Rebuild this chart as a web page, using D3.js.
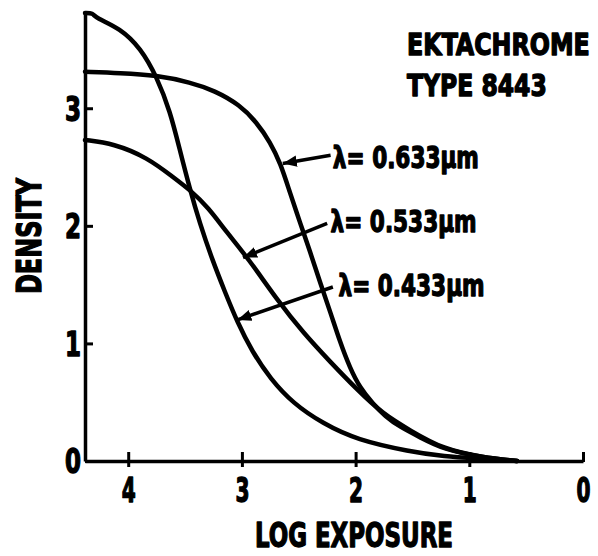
<!DOCTYPE html>
<html>
<head>
<meta charset="utf-8">
<script src="https://cdn.jsdelivr.net/npm/d3@7"></script>
<style>
  html, body { margin: 0; padding: 0; background: #fff; }
  .lbl { font-family: "DejaVu Sans Condensed", "DejaVu Sans", sans-serif; font-weight: bold; fill: #000; stroke: #000; stroke-width: 1.3px; stroke-linejoin: round; }
</style>
</head>
<body>
<div class="graph"></div>
<script>
// log exposure (x) vs density (y)
var curve633 = [[4.38,3.31],[4.07,3.30],[3.75,3.28],[3.45,3.22],[3.24,3.15],[3.02,3.03],[2.87,2.88],[2.75,2.71],[2.66,2.53],[2.58,2.29],[2.49,2.03],[2.40,1.78],[2.31,1.51],[2.22,1.26],[2.14,1.02],[2.05,0.79],[1.96,0.62],[1.85,0.49],[1.74,0.38],[1.61,0.29],[1.43,0.20],[1.23,0.10],[0.88,0.03],[0.58,0]];
var curve533 = [[4.38,2.73],[4.13,2.70],[3.83,2.58],[3.60,2.41],[3.45,2.30],[3.30,2.16],[3.13,1.94],[2.95,1.73],[2.69,1.37],[2.46,1.09],[2.22,0.84],[1.99,0.61],[1.76,0.40],[1.52,0.26],[1.23,0.10],[0.88,0.03],[0.58,0]];
var curve433 = [[4.38,3.81],[4.31,3.81],[4.29,3.77],[4.07,3.68],[3.89,3.51],[3.75,3.27],[3.63,2.97],[3.55,2.66],[3.46,2.32],[3.37,2.02],[3.26,1.71],[3.15,1.44],[3.04,1.18],[2.91,0.93],[2.75,0.70],[2.55,0.49],[2.29,0.32],[1.99,0.18],[1.52,0.08],[1.23,0.04],[0.88,0.02],[0.58,0]];

var xTicks = [4, 3, 2, 1, 0];
var yTicks = [0, 1, 2, 3];

// label text, text anchor point, leader start, arrow tip (data units)
var labels = ["λ= 0.633μm", "λ= 0.533μm", "λ= 0.433μm"];
var labelPos = [[2.20, 2.49], [2.22, 1.95], [2.15, 1.40]];
var leaderFrom = [[2.22, 2.60], [2.25, 2.02], [2.20, 1.48]];
var leaderTo = [[2.64, 2.53], [2.99, 1.73], [3.04, 1.20]];

var titleLines = ["EKTACHROME", "TYPE 8443"];

var width = 598, height = 556;

var x = d3.scaleLinear().domain([4.38, 0]).range([85, 583]);
var y = d3.scaleLinear().domain([0, 3.81]).range([461, 13]);

var svg = d3.select(".graph")
    .append("svg")
        .attr("width", width)
        .attr("height", height);

svg.append("defs").append("marker")
    .attr("id", "arrow")
    .attr("viewBox", "0 0 10 10")
    .attr("refX", 10).attr("refY", 5)
    .attr("markerWidth", 4).attr("markerHeight", 4)
    .attr("markerUnits", "strokeWidth")
    .attr("orient", "auto")
    .append("path")
        .attr("d", "M0,1 L10,5 L0,9 Z")
        .attr("fill", "#000");

// x axis
var gx = svg.append("g")
    .attr("transform", "translate(0," + y(0) + ")")
    .call(d3.axisBottom(x).tickValues(xTicks).tickSizeOuter(0).tickFormat(d3.format("d")));
gx.select(".domain").attr("stroke-width", 3.5);
gx.selectAll(".tick line")
    .attr("stroke-width", 3)
    .attr("y1", -9)
    .attr("y2", function(d) { return d === 0 ? 1 : 6; });
gx.selectAll(".tick text")
    .attr("class", "lbl")
    .attr("y", 41)
    .attr("dy", null)
    .style("font-size", "33px")
    .attr("textLength", 14)
    .attr("lengthAdjust", "spacingAndGlyphs");

// y axis
var gy = svg.append("g")
    .attr("transform", "translate(" + x(4.38) + ",0)")
    .call(d3.axisLeft(y).tickValues(yTicks).tickSize(-8).tickSizeOuter(0).tickPadding(4).tickFormat(d3.format("d")));
gy.select(".domain").attr("stroke-width", 3.5);
gy.selectAll(".tick line").attr("stroke-width", 3);
gy.selectAll(".tick text")
    .attr("class", "lbl")
    .attr("dy", "0.36em")
    .style("font-size", "33px")
    .attr("textLength", 16)
    .attr("lengthAdjust", "spacingAndGlyphs");

// curves
var line = d3.line()
    .x(function(d) { return x(d[0]); })
    .y(function(d) { return y(d[1]); })
    .curve(d3.curveBasis);

svg.selectAll(".curve")
    .data([curve633, curve533, curve433])
    .enter().append("path")
        .attr("class", "curve")
        .attr("d", line)
        .attr("fill", "none")
        .attr("stroke", "#000")
        .attr("stroke-width", 4.5)
        .attr("stroke-linecap", "round")
        .attr("stroke-linejoin", "round");

// leaders with arrows
svg.selectAll(".leader")
    .data(leaderFrom)
    .enter().append("line")
        .attr("class", "leader")
        .attr("x1", function(d) { return x(d[0]); })
        .attr("y1", function(d) { return y(d[1]); })
        .attr("x2", function(d, i) { return x(leaderTo[i][0]); })
        .attr("y2", function(d, i) { return y(leaderTo[i][1]); })
        .attr("stroke", "#000")
        .attr("stroke-width", 3.5)
        .attr("marker-end", "url(#arrow)");

svg.selectAll(".wl")
    .data(labels)
    .enter().append("text")
        .attr("class", "lbl")
        .attr("x", function(d, i) { return x(labelPos[i][0]); })
        .attr("y", function(d, i) { return y(labelPos[i][1]); })
        .style("font-size", "30px")
        .attr("textLength", 146)
        .attr("lengthAdjust", "spacingAndGlyphs")
        .text(function(d) { return d; });

// titles (squeezed horizontally like the original lettering)
svg.selectAll(".title")
    .data(titleLines)
    .enter().append("text")
        .attr("class", "lbl title")
        .attr("transform", function(d, i) { return "translate(407," + (55 + i * 41) + ") scale(" + (i === 0 ? 0.88 : 0.87) + ",1)"; })
        .style("font-size", "30px")
        .text(function(d) { return d; });

// axis labels
svg.append("text")
    .attr("class", "lbl")
    .attr("x", 255).attr("y", 547)
    .style("font-size", "33px")
    .attr("textLength", 198)
    .attr("lengthAdjust", "spacingAndGlyphs")
    .text("LOG EXPOSURE");

svg.append("text")
    .attr("class", "lbl")
    .attr("transform", "translate(41,236) rotate(-90)")
    .style("text-anchor", "middle")
    .style("font-size", "33px")
    .attr("textLength", 116)
    .attr("lengthAdjust", "spacingAndGlyphs")
    .text("DENSITY");
</script>
</body>
</html>
